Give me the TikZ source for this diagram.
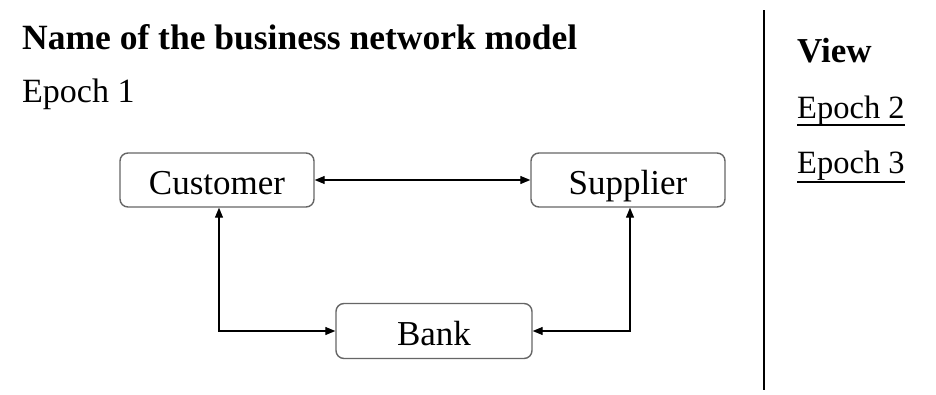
\documentclass[tikz,border=0pt]{standalone}
\usepackage{fontspec}
\setmainfont{Liberation Serif}
\usetikzlibrary{arrows.meta}
\tikzset{
  entity/.style={draw=black!60, line width=1.4pt, rounded corners=8pt, fill=white,
    minimum width=194pt, minimum height=54pt, inner sep=0pt,
    text height=29pt, text depth=0pt,
    font=\fontsize{35}{40}\selectfont},
  link/.style={line width=1.2pt, {Triangle[length=10pt,width=8pt]}-{Triangle[length=10pt,width=8pt]}},
  txt/.style={anchor=base west, inner sep=0pt},
  uline/.style={line width=1.3pt}
}
\begin{document}
\begin{tikzpicture}[x=1pt,y=-1pt]
\useasboundingbox (0,0) rectangle (936,394);
\fill[white] (0,0) rectangle (936,394);

\node[txt, font=\bfseries\fontsize{35.5}{40}\selectfont] (title) at (22,49) {Name of the business network model};
\node[txt, font=\fontsize{34}{38}\selectfont] (ep1) at (22,102) {Epoch 1};

\node[entity] (cust) at (217,180) {Customer};
\node[entity] (supp) at (628,180) {Supplier};
\node[entity, minimum width=196pt, minimum height=55pt] (bank) at (434,331) {Bank};

\draw[link] (cust.east) -- (supp.west);
\draw[link] ([xshift=2pt]cust.south) |- (bank.west);
\draw[link] ([xshift=2pt]supp.south) |- (bank.east);

\coordinate (septop) at (764,10);
\coordinate (sepbot) at (764,390);
\draw[line width=1.3pt] (septop) -- (sepbot);

\node[txt, font=\bfseries\fontsize{35}{40}\selectfont] (view) at (797,62) {View};
\node[txt, font=\fontsize{32.5}{36}\selectfont] (ep2) at (797,118) {Epoch 2};
\node[txt, font=\fontsize{32.5}{36}\selectfont] (ep3) at (797,173) {Epoch 3};
\draw[uline] ([yshift=-7pt]ep2.base west) -- ([yshift=-7pt]ep2.base east);
\draw[uline] ([yshift=-9pt]ep3.base west) -- ([yshift=-9pt]ep3.base east);
\end{tikzpicture}
\end{document}
